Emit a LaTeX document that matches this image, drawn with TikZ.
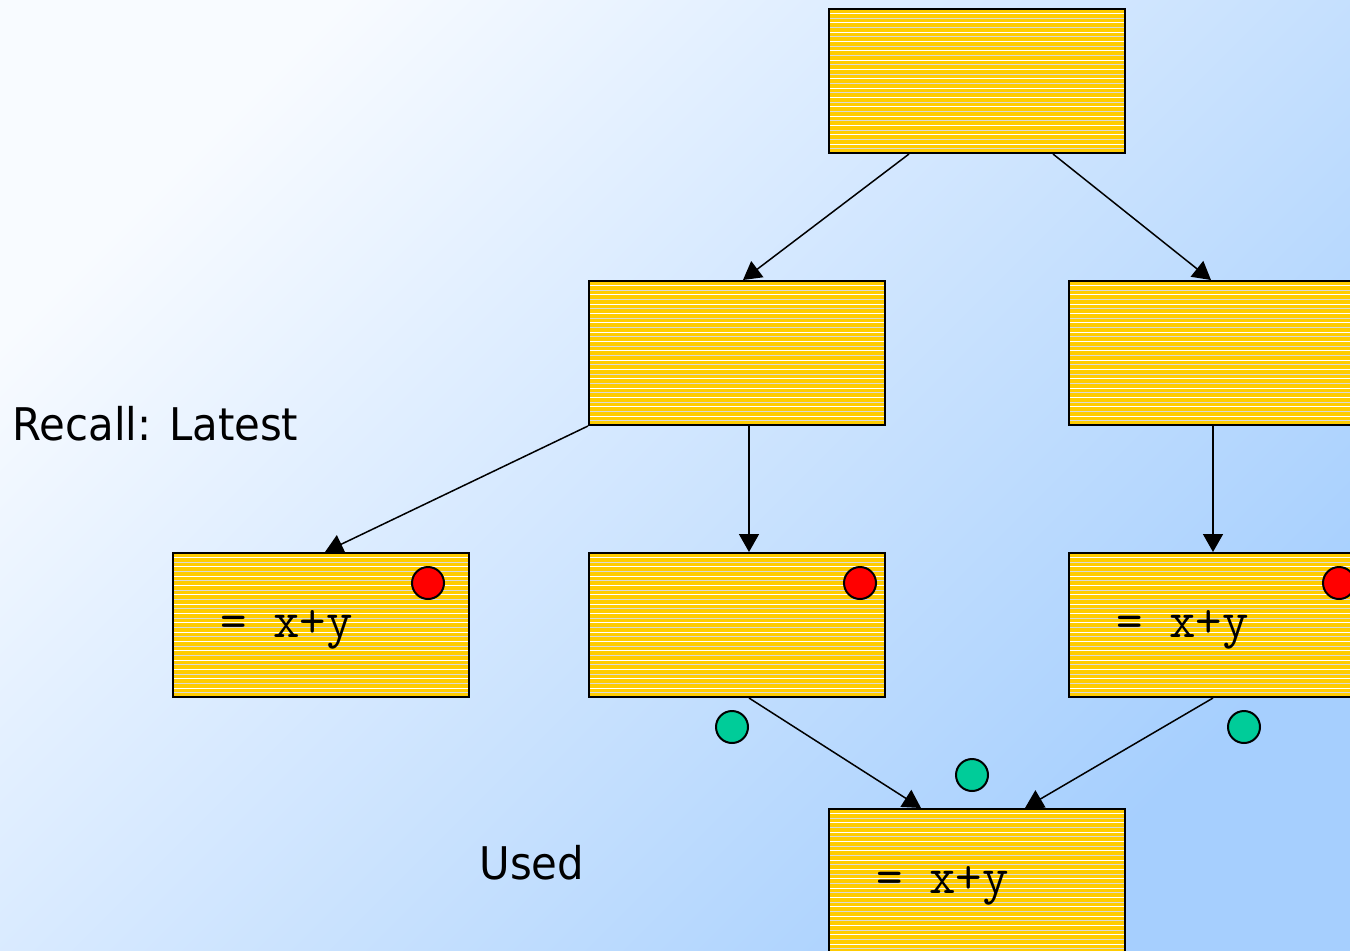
\documentclass[tikz,border=0pt]{standalone}
\usepackage{fontspec}
\newfontfamily\tahoma[FakeStretch=0.93]{DejaVu Sans}
\usetikzlibrary{arrows.meta,calc}
\definecolor{bgA}{HTML}{F8FBFF}
\definecolor{bgB}{HTML}{A6CFFE}
\definecolor{boxyellow}{HTML}{FFCC00}
\definecolor{stripeg}{HTML}{D9D9D9}
\definecolor{dotred}{HTML}{FF0000}
\definecolor{dotgreen}{HTML}{00CC99}
\tikzset{
  stripebox/.style={draw=black, line width=1pt, fill=boxyellow,
    minimum width=148pt, minimum height=72pt, inner sep=0pt, anchor=north west,
    path picture={
      \foreach \k in {1,3,...,31}{
        \draw[white, line width=0.5pt]
          ([yshift=-\k*2.33pt]path picture bounding box.north west) --
          ([yshift=-\k*2.33pt]path picture bounding box.north east);}
      \foreach \k in {2,4,...,30}{
        \draw[stripeg, line width=0.5pt]
          ([yshift=-\k*2.33pt]path picture bounding box.north west) --
          ([yshift=-\k*2.33pt]path picture bounding box.north east);}
    }},
  conn/.style={line width=0.75pt, -{Triangle[length=9pt,width=10pt]}},
  dotnode/.style={circle, draw=black, line width=1pt, minimum size=16pt, inner sep=0pt},
  monotext/.style={font=\ttfamily\fontsize{25.7}{28}\selectfont, anchor=base west, inner sep=0pt},
  plaintext/.style={font=\tahoma\fontsize{22.5}{26}\selectfont, anchor=base west, inner sep=0pt},
}
\begin{document}
\begin{tikzpicture}[x=0.5pt,y=-0.5pt]
\useasboundingbox (0,0) rectangle (1350,950);
\clip (0,0) rectangle (1350,950);
\shade[top color=bgA, bottom color=bgB, shading angle=45] (0,0) rectangle (1350,950);

% boxes
\node[stripebox] (top) at (828,8) {};
\node[stripebox] (ml) at (588,280) {};
\node[stripebox] (mr) at (1068,280) {};
\node[stripebox] (bl) at (172,552) {};
\node[stripebox] (bm) at (588,552) {};
\node[stripebox] (br) at (1068,552) {};
\node[stripebox] (fin) at (828,808) {};

% texts in boxes
\node[monotext] (t1) at (220,637) {= x+y};
\node[monotext] (t2) at (1116,637) {= x+y};
\node[monotext] (t3) at (876,893) {= x+y};

% labels
\node[plaintext] (recall) at (12,440) {Recall: Latest};
\node[plaintext] (used) at (479,879) {Used};

% connectors
\draw[conn] ([xshift=-34pt]top.south) -- ([xshift=3pt]ml.north);
\draw[conn] ([xshift=38pt]top.south) -- ([xshift=-3pt]mr.north);
\draw[conn] (ml.south west) -- ([xshift=2pt]bl.north);
\draw[conn] ([xshift=6pt]ml.south) -- ([xshift=6pt]bm.north);
\draw[conn] ([xshift=-2pt]mr.south) -- ([xshift=-2pt]br.north);
\draw[conn] ([xshift=6pt]bm.south) -- ([xshift=-28pt]fin.north);
\draw[conn] ([xshift=-2pt]br.south) -- ([xshift=24pt]fin.north);

% dots
\node[dotnode, fill=dotred] (r1) at (428,583) {};
\node[dotnode, fill=dotred] (r2) at (860,583) {};
\node[dotnode, fill=dotred] (r3) at (1339,583) {};
\node[dotnode, fill=dotgreen] (g1) at (732,727) {};
\node[dotnode, fill=dotgreen] (g2) at (972,775) {};
\node[dotnode, fill=dotgreen] (g3) at (1244,727) {};
\end{tikzpicture}
\end{document}
